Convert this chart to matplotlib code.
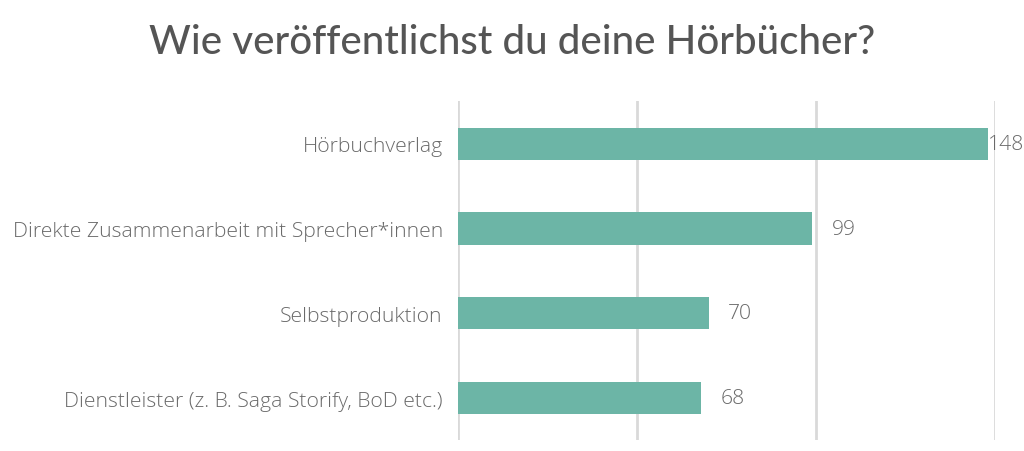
import matplotlib
matplotlib.use("Agg")
import matplotlib.pyplot as plt

categories = ["Hörbuchverlag",
              "Direkte Zusammenarbeit mit Sprecher*innen",
              "Selbstproduktion",
              "Dienstleister (z. B. Saga Storify, BoD etc.)"]
values = [148, 99, 70, 68]
ticks = [0, 50, 100, 150]
title = "Wie veröffentlichst du deine Hörbücher?"

bar_color = "#6cb5a6"
text_color = "#6a6a6a"
label_font = dict(family="Open Sans", fontweight="light")

fig = plt.figure(figsize=(10.24, 4.52), dpi=100)
ax = fig.add_axes([0.4473, 0.0235, 0.9715 - 0.4473, 0.7500])

y = list(range(len(categories)))
ax.barh(y, values, height=0.38, color=bar_color, zorder=3)
ax.set_ylim(len(categories) - 0.5, -0.5)
ax.set_xlim(0, 150)
ax.set_xticks(ticks)
ax.xaxis.grid(True, color="#d9d9d9", linewidth=2, zorder=0)
ax.tick_params(axis="x", length=0, labelbottom=False)
ax.tick_params(axis="y", length=0, pad=11)
ax.set_yticks(y)
ax.set_yticklabels(categories, fontsize=15.2, color=text_color, **label_font)
for s in ax.spines.values():
    s.set_visible(False)

for yi, v in zip(y, values):
    off = 0.5 if v == max(values) else 14
    ax.annotate(str(v), (v, yi), xytext=(off, 0), textcoords="offset points",
                va="center", ha="left", fontsize=15.2, color=text_color,
                zorder=4, **label_font)

fig.text(0.5, 0.905, title, ha="center", va="center", fontsize=29,
         color="#555555", family="Lato", fontweight="medium")

fig.savefig("out.png", dpi=100)
